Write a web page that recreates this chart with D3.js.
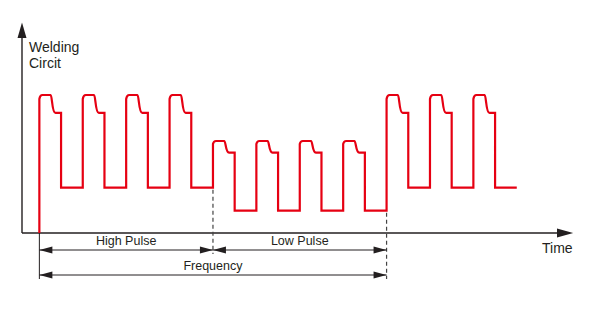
<!DOCTYPE html>
<html>
<head>
<script src="https://cdn.jsdelivr.net/npm/d3@7"></script>
<style>
  body { margin: 0; background: #fff; }
  text { font-family: "Liberation Sans", Arial, sans-serif; fill: #231f20; }
</style>
</head>
<body>
<div id="chart"></div>
<script>
// pulse train data (time in arbitrary units, current in % of axis height)
const pulseStarts = [4, 14, 24, 34, 44, 54, 64, 74, 84, 94, 104];
const pulseKinds = ["high", "high", "high", "high", "low", "low", "low", "low", "high", "high", "high"];
// levels: start of rise, peak, shoulder, base
const highLevels = [63.5, 65.4, 56.9, 21.5];
const lowLevels = [42.2, 43.6, 38.1, 10.6];
const pulseWidth = 5;
const period = 10;

// dimension spans under the axis
const spanLabels = ["High Pulse", "Low Pulse", "Frequency"];
const spanStart = [4, 44, 4];
const spanEnd = [44, 84, 84];
const spanRow = [0, 0, 1];

const W = 590, H = 312;
const red = "#e60012", ink = "#231f20";

const svg = d3.select("#chart").append("svg")
  .attr("width", W).attr("height", H);

const x = d3.scaleLinear().domain([0, 127]).range([22, 573.2]);
const y = d3.scaleLinear().domain([0, 100]).range([233, 22]);
const rowY = [250, 275];

// axes with arrowheads
svg.append("line").attr("x1", x(0)).attr("y1", y(0)).attr("x2", x(0)).attr("y2", 36)
  .attr("stroke", ink).attr("stroke-width", 1.4);
svg.append("path").attr("d", `M${x(0)},${y(100) + 0.5} L${x(0) - 4.5},${38} L${x(0) + 4.5},${38} Z`)
  .attr("fill", ink);
svg.append("line").attr("x1", x(0)).attr("y1", y(0)).attr("x2", 560).attr("y2", y(0))
  .attr("stroke", ink).attr("stroke-width", 1.4);
svg.append("path").attr("d", `M${x(127)},${y(0)} L${557},${y(0) - 4.5} L${557},${y(0) + 4.5} Z`)
  .attr("fill", ink);

svg.append("text").attr("x", 29).attr("y", 52).attr("font-size", 14).text("Welding");
svg.append("text").attr("x", 29).attr("y", 68).attr("font-size", 14).text("Circit");
svg.append("text").attr("x", 542).attr("y", 252.5).attr("font-size", 14).text("Time");

// reference lines down to the dimension arrows
svg.append("line").attr("x1", x(4)).attr("x2", x(4)).attr("y1", y(0)).attr("y2", 279)
  .attr("stroke", ink).attr("stroke-width", 1);
svg.append("line").attr("x1", x(44)).attr("x2", x(44)).attr("y1", y(highLevels[3]) + 2).attr("y2", 254)
  .attr("stroke", "#444").attr("stroke-width", 1.2).attr("stroke-dasharray", "4,3");
svg.append("line").attr("x1", x(84)).attr("x2", x(84)).attr("y1", y(lowLevels[3]) + 2).attr("y2", 279)
  .attr("stroke", "#444").attr("stroke-width", 1.2).attr("stroke-dasharray", "4,3");

// waveform
const p = d3.path();
p.moveTo(x(pulseStarts[0]), y(0));
pulseStarts.forEach((t0, i) => {
  const [s, pk, sh, b] = pulseKinds[i] === "high" ? highLevels : lowLevels;
  p.lineTo(x(t0), y(s));
  p.quadraticCurveTo(x(t0 + 0.15), y(pk), x(t0 + 0.7), y(pk));
  p.lineTo(x(t0 + 2.6), y(pk));
  p.bezierCurveTo(x(t0 + 2.95), y(pk), x(t0 + 2.9), y(sh), x(t0 + 3.7), y(sh));
  p.lineTo(x(t0 + pulseWidth), y(sh));
  p.lineTo(x(t0 + pulseWidth), y(b));
  p.lineTo(x(t0 + period), y(b));
});
svg.append("path").attr("d", p.toString())
  .attr("fill", "none").attr("stroke", red).attr("stroke-width", 2.2);

// dimension arrows
const ah = 13, aw = 3.6;
spanLabels.forEach((lab, i) => {
  const x1 = x(spanStart[i]), x2 = x(spanEnd[i]), yy = rowY[spanRow[i]];
  svg.append("line").attr("x1", x1).attr("x2", x2).attr("y1", yy).attr("y2", yy)
    .attr("stroke", ink).attr("stroke-width", 1);
  svg.append("path").attr("d", `M${x1},${yy} L${x1 + ah},${yy - aw} L${x1 + ah},${yy + aw} Z`).attr("fill", ink);
  svg.append("path").attr("d", `M${x2},${yy} L${x2 - ah},${yy - aw} L${x2 - ah},${yy + aw} Z`).attr("fill", ink);
  svg.append("text").attr("x", (x1 + x2) / 2).attr("y", yy - 5.5)
    .attr("text-anchor", "middle").attr("font-size", 12.5).text(lab);
});
</script>
</body>
</html>
